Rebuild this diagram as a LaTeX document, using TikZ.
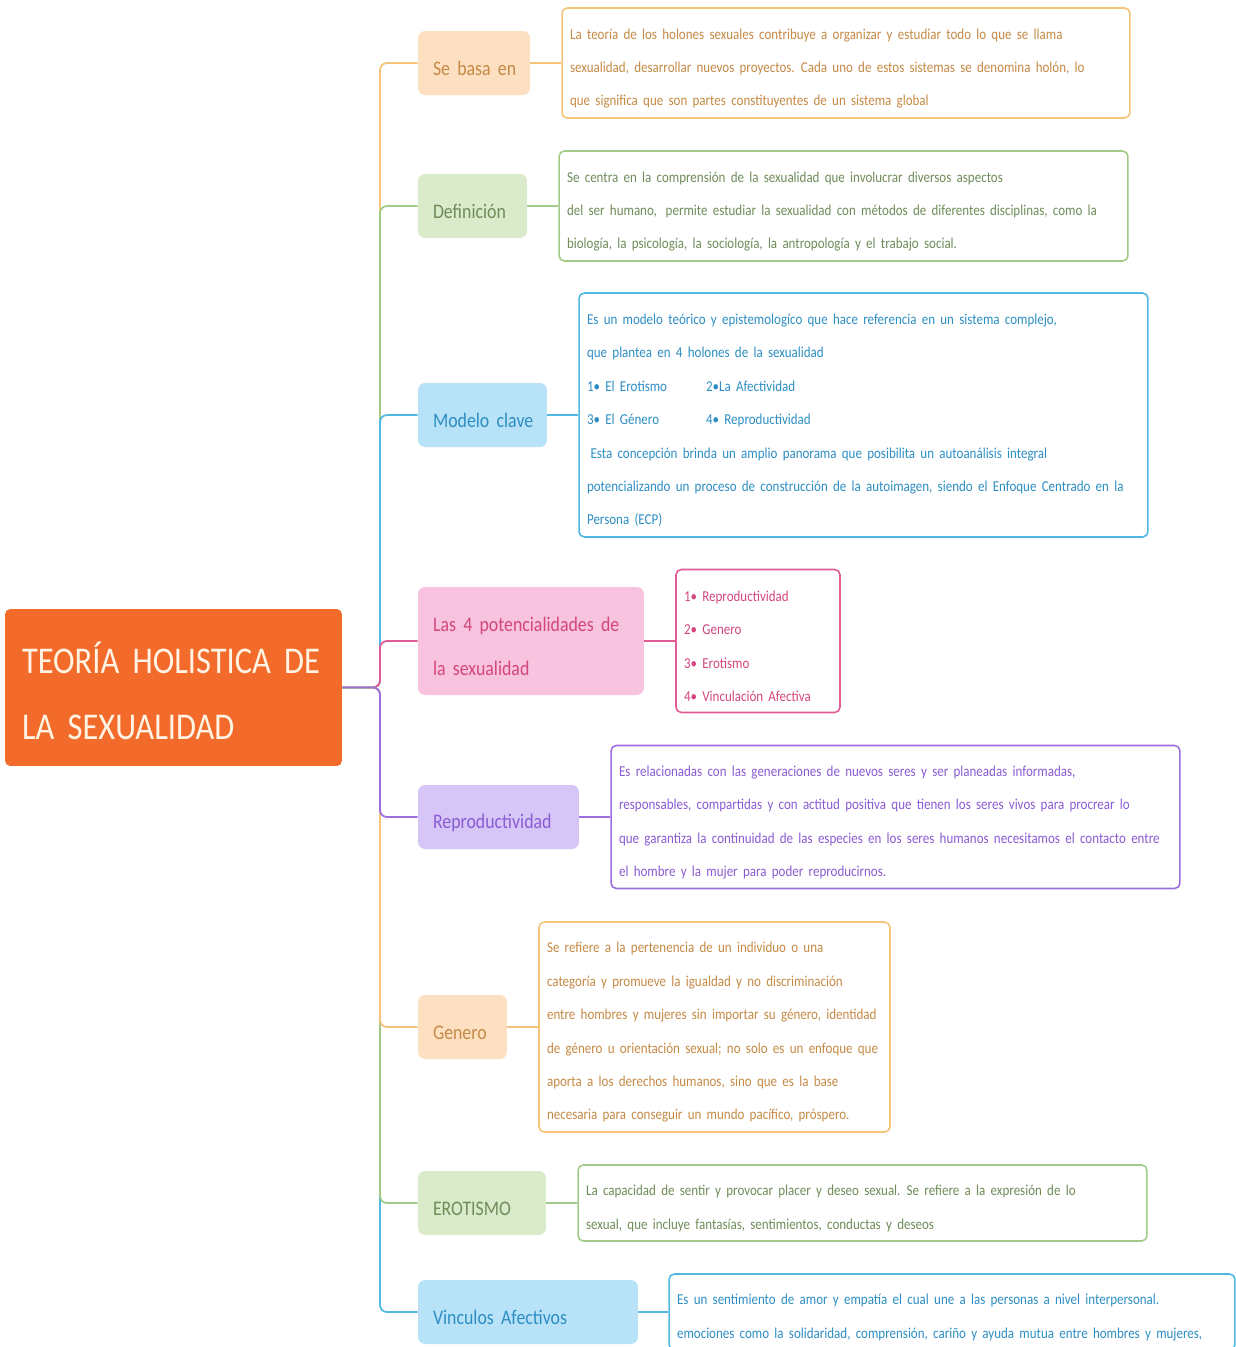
\documentclass[tikz,border=0pt]{standalone}
\usepackage{fontspec}
\setmainfont{Carlito}[FakeStretch=0.86, WordSpace=1.8]
\usetikzlibrary{positioning}

\definecolor{rootfill}{HTML}{F26B2A}
\definecolor{rootink}{HTML}{FFF3E3}
\definecolor{peachfill}{HTML}{FDE0C2}
\definecolor{peachink}{HTML}{C58A45}
\definecolor{peachline}{HTML}{F3C47A}
\definecolor{greenfill}{HTML}{D9EBCA}
\definecolor{greenink}{HTML}{6F8C59}
\definecolor{greenline}{HTML}{A2CB88}
\definecolor{bluefill}{HTML}{B7E2F8}
\definecolor{blueink}{HTML}{2D8EC3}
\definecolor{blueline}{HTML}{50B8E1}
\definecolor{pinkfill}{HTML}{F8C3DE}
\definecolor{pinkink}{HTML}{D4467F}
\definecolor{pinkline}{HTML}{E15B94}
\definecolor{lilacfill}{HTML}{D5C6F7}
\definecolor{lilacink}{HTML}{8A5BD3}
\definecolor{lilacline}{HTML}{9D6EE0}

\begin{document}
\begin{tikzpicture}[x=0.02cm, y=-0.02cm,
		lift/.style={execute at begin node={\rule{0pt}{\dimexpr0.75em+5.7pt\relax}}},
		rootstyle/.style={lift, fill=rootfill, text=rootink, rounded corners=3pt, align=flush left,
			text width=6.06cm, inner xsep=0.34cm, minimum height=3.14cm,
			font=\fontsize{21.5}{38}\selectfont},
		topicstyle/.style={lift, rounded corners=4pt, align=flush left, inner xsep=0.3cm,
			minimum height=1.28cm, font=\fontsize{11.8}{25}\selectfont},
		notestyle/.style={lift, draw, fill=white, line width=0.9pt, rounded corners=3pt, align=flush left,
			inner xsep=0.16cm, font=\fontsize{8.6}{19}\selectfont},
		edgestyle/.style={line width=1pt, rounded corners=4pt}]
	\useasboundingbox (0,0) rectangle (1236,1347);
	\clip (0,0) rectangle (1236,1347);
	\fill[white] (0,0) rectangle (1236,1347);

	% centre
	\node [rootstyle] (root) at (173.5,687.5) {\mbox{TEORÍA HOLISTICA DE}\\LA SEXUALIDAD};
	\coordinate (hub) at (380,687.5);

	% ramas
	\node [topicstyle, fill=peachfill, text=peachink, text width=1.64cm] (basa) at (474,63) {\mbox{Se basa en}};
	\node [topicstyle, fill=greenfill, text=greenink, text width=1.58cm] (defin) at (472.5,206) {\mbox{Definición}};
	\node [topicstyle, fill=bluefill, text=blueink, text width=1.98cm] (modelo) at (482.5,415) {\mbox{Modelo clave}};
	\node [topicstyle, fill=pinkfill, text=pinkink, text width=3.92cm, minimum height=2.16cm] (poten) at (531,641) {Las 4 potencialidades de\\la sexualidad};
	\node [topicstyle, fill=lilacfill, text=lilacink, text width=2.62cm] (repro) at (498.5,817) {\mbox{Reproductividad}};
	\node [topicstyle, fill=peachfill, text=peachink, text width=1.18cm] (genero) at (462.5,1027) {\mbox{Genero}};
	\node [topicstyle, fill=greenfill, text=greenink, text width=1.96cm] (erot) at (482,1203) {\mbox{EROTISMO}};
	\node [topicstyle, fill=bluefill, text=blueink, text width=3.8cm] (vinc) at (528,1312) {\mbox{Vinculos Afectivos}};

	% notas
	\node [notestyle, draw=peachline, text=peachink, text width=11.04cm, minimum height=2.2cm] (nbasa) at (846,63)
		{La teoría de los holones sexuales contribuye a organizar y estudiar todo lo que se llama\\
		sexualidad, desarrollar nuevos proyectos. Cada uno de estos sistemas se denomina holón, lo\\
		que significa que son partes constituyentes de un sistema global};
	\node [notestyle, draw=greenline, text=greenink, text width=11.06cm, minimum height=2.2cm] (ndefin) at (843.5,206)
		{Se centra en la comprensión de la sexualidad que involucrar diversos aspectos\\
		del ser humano,\hspace{2pt} permite estudiar la sexualidad con métodos de diferentes disciplinas, como la\\
		biología, la psicología, la sociología, la antropología y el trabajo social.};
	\node [notestyle, draw=blueline, text=blueink, text width=11.06cm, minimum height=4.88cm] (nmodelo) at (863.5,415)
		{Es un modelo teórico y epistemologíco que hace referencia en un sistema complejo,\\
		que plantea en 4 holones de la sexualidad\\
		\makebox[2.38cm][l]{1• El Erotismo}2•La Afectividad\\
		\makebox[2.38cm][l]{3• El Género}4• Reproductividad\\
		\hspace{2pt}Esta concepción brinda un amplio panorama que posibilita un autoanálisis integral\\
		potencializando un proceso de construcción de la autoimagen, siendo el Enfoque Centrado en la\\
		Persona (ECP)};
	\node [notestyle, draw=pinkline, text=pinkink, text width=2.96cm, minimum height=2.86cm] (npoten) at (758,641)
		{1• Reproductividad\\2• Genero\\3• Erotismo\\4• Vinculación Afectiva};
	\node [notestyle, draw=lilacline, text=lilacink, text width=11.06cm, minimum height=2.86cm] (nrepro) at (895.5,817)
		{Es relacionadas con las generaciones de nuevos seres y ser planeadas informadas,\\
		responsables, compartidas y con actitud positiva que tienen los seres vivos para procrear lo\\
		que garantiza la continuidad de las especies en los seres humanos necesitamos el contacto entre\\
		el hombre y la mujer para poder reproducirnos.};
	\node [notestyle, draw=peachline, text=peachink, text width=6.7cm, minimum height=4.2cm] (ngenero) at (714.5,1027)
		{Se refiere a la pertenencia de un individuo o una\\
		categoría y promueve la igualdad y no discriminación\\
		entre hombres y mujeres sin importar su género, identidad\\
		de género u orientación sexual; no solo es un enfoque que\\
		aporta a los derechos humanos, sino que es la base\\
		necesaria para conseguir un mundo pacífico, próspero.};
	\node [notestyle, draw=greenline, text=greenink, text width=11.06cm, minimum height=1.52cm] (nerot) at (862.5,1203)
		{La capacidad de sentir y provocar placer y deseo sexual. Se refiere a la expresión de lo\\
		sexual, que incluye fantasías, sentimientos, conductas y deseos};
	\node [notestyle, draw=blueline, text=blueink, text width=11cm, minimum height=1.52cm] (nvinc) at (952,1312)
		{Es un sentimiento de amor y empatía el cual une a las personas a nivel interpersonal.\\
		emociones como la solidaridad, comprensión, cariño y ayuda mutua entre hombres y mujeres,};

	% conectores
	\foreach \n/\c in {basa/peachline, defin/greenline, modelo/blueline, poten/pinkline,
			vinc/blueline, erot/greenline, genero/peachline, repro/lilacline}
		\draw [edgestyle, \c] (root.east) -- (hub) |- (\n.west);
	\foreach \n/\m/\c in {basa/nbasa/peachline, defin/ndefin/greenline, modelo/nmodelo/blueline,
			poten/npoten/pinkline, repro/nrepro/lilacline, genero/ngenero/peachline,
			erot/nerot/greenline, vinc/nvinc/blueline}
		\draw [edgestyle, \c] (\n.east) -- (\m.west);
\end{tikzpicture}
\end{document}
